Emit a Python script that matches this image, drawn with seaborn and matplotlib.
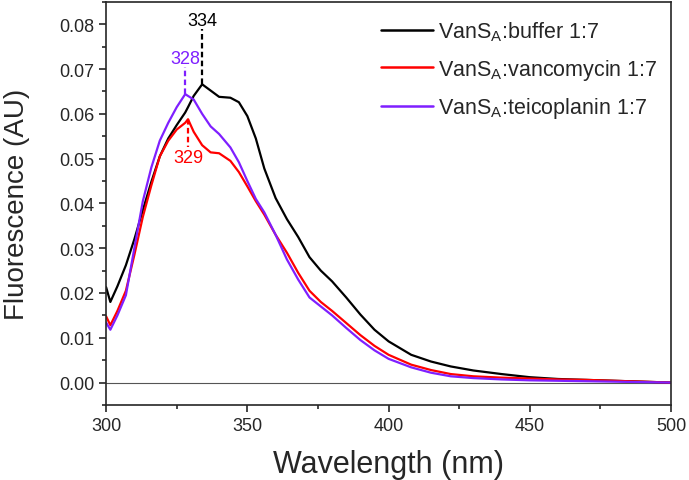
import pandas as pd
import seaborn as sns
from matplotlib import pyplot as plt
from matplotlib.ticker import MultipleLocator

wavelength = [300, 301.5, 304, 307, 310, 313, 316, 319, 322, 325, 328, 329, 331, 334, 337, 340,
              344, 347, 350, 353, 356, 360, 364, 368, 372, 376, 380, 385, 390, 395, 400, 408,
              415, 422, 430, 440, 450, 460, 470, 480, 490, 500]

buffer_vals = [0.0213, 0.0180, 0.0215, 0.0262, 0.0320, 0.0385, 0.0448, 0.0505, 0.0545, 0.0575,
               0.0603, 0.0615, 0.0640, 0.0666, 0.0652, 0.0638, 0.0636, 0.0626, 0.0595, 0.0545,
               0.0478, 0.0412, 0.0365, 0.0325, 0.0280, 0.0250, 0.0226, 0.0190, 0.0152, 0.0118,
               0.0092, 0.0062, 0.0047, 0.0036, 0.0027, 0.0019, 0.0012, 0.0008, 0.0006, 0.0004,
               0.0002, 0.0000]

vanco_vals = [0.0148, 0.0128, 0.0160, 0.0205, 0.0285, 0.0370, 0.0440, 0.0505, 0.0540, 0.0565,
              0.0580, 0.0588, 0.0560, 0.0530, 0.0514, 0.0512, 0.0495, 0.0470, 0.0438, 0.0405,
              0.0375, 0.0330, 0.0290, 0.0245, 0.0205, 0.0180, 0.0160, 0.0133, 0.0106, 0.0082,
              0.0062, 0.0040, 0.0028, 0.0019, 0.0014, 0.0011, 0.0009, 0.0007, 0.0006, 0.0004,
              0.0002, 0.0000]

teico_vals = [0.0134, 0.0118, 0.0150, 0.0195, 0.0300, 0.0405, 0.0480, 0.0540, 0.0580, 0.0615,
              0.0644, 0.0640, 0.0632, 0.0600, 0.0572, 0.0555, 0.0525, 0.0492, 0.0450, 0.0410,
              0.0380, 0.0330, 0.0275, 0.0230, 0.0190, 0.0170, 0.0150, 0.0122, 0.0095, 0.0072,
              0.0053, 0.0034, 0.0022, 0.0014, 0.0010, 0.0007, 0.0005, 0.0004, 0.0003, 0.0002,
              0.0001, 0.0000]

labels = ["VanS$_\\mathregular{A}$:buffer 1:7",
          "VanS$_\\mathregular{A}$:vancomycin 1:7",
          "VanS$_\\mathregular{A}$:teicoplanin 1:7"]
colors = ["#000000", "#ff0000", "#7f1fff"]

# peak markers, same order as series: (wavelength, peak value, dashed line end, label y)
peaks = [(334, 0.0666, 0.0790, 0.0808),
         (329, 0.0588, 0.0525, 0.0502),
         (328, 0.0644, 0.0704, 0.0724)]

df = pd.concat([
    pd.DataFrame({"wl": wavelength, "F": vals, "s": lab})
    for vals, lab in zip([buffer_vals, vanco_vals, teico_vals], labels)
])

sns.set_style("ticks")
plt.rcParams['font.family'] = ['Liberation Sans', 'DejaVu Sans']
plt.rcParams['mathtext.fontset'] = 'custom'
plt.rcParams['mathtext.rm'] = 'Liberation Sans'

fig = plt.figure(figsize=(6.89, 4.81), dpi=100)
ax = fig.add_axes([0.154, 0.156, 0.820, 0.838])

sns.lineplot(data=df, x="wl", y="F", hue="s", palette=colors, linewidth=1.6, ax=ax)
ax.axhline(0, color="#555555", linewidth=0.8, zorder=0)

for (wl, pk, end, ty), c in zip(peaks, colors):
    ax.plot([wl, wl], [pk, end], ls=(0, (2.5, 1.5)), color=c, lw=1.6)
    ax.text(wl, ty, str(wl), color=c, ha="center", va="center", fontsize=13)

ax.set_xlim(300, 500)
ax.set_ylim(-0.005, 0.085)
ax.xaxis.set_major_locator(MultipleLocator(50))
ax.xaxis.set_minor_locator(MultipleLocator(25))
ax.yaxis.set_major_locator(MultipleLocator(0.01))
ax.yaxis.set_minor_locator(MultipleLocator(0.005))
ax.yaxis.set_major_formatter(plt.FormatStrFormatter('%.2f'))
ax.tick_params(which="major", direction="out", length=5, width=1.2, labelsize=13)
ax.tick_params(which="minor", direction="out", length=3, width=1.2)
for sp in ax.spines.values():
    sp.set_linewidth(1.2)

ax.set_xlabel("Wavelength (nm)", fontsize=22, labelpad=11)
ax.set_ylabel("Fluorescence (AU)", fontsize=20, labelpad=21)

leg = ax.legend(loc="upper right", bbox_to_anchor=(1.0, 0.988), frameon=False, fontsize=15.5,
                handlelength=2.4, handletextpad=0.25, labelspacing=0.63,
                borderaxespad=0.2)
for line in leg.get_lines():
    line.set_linewidth(1.8)

fig.savefig("out.png", dpi=100)
